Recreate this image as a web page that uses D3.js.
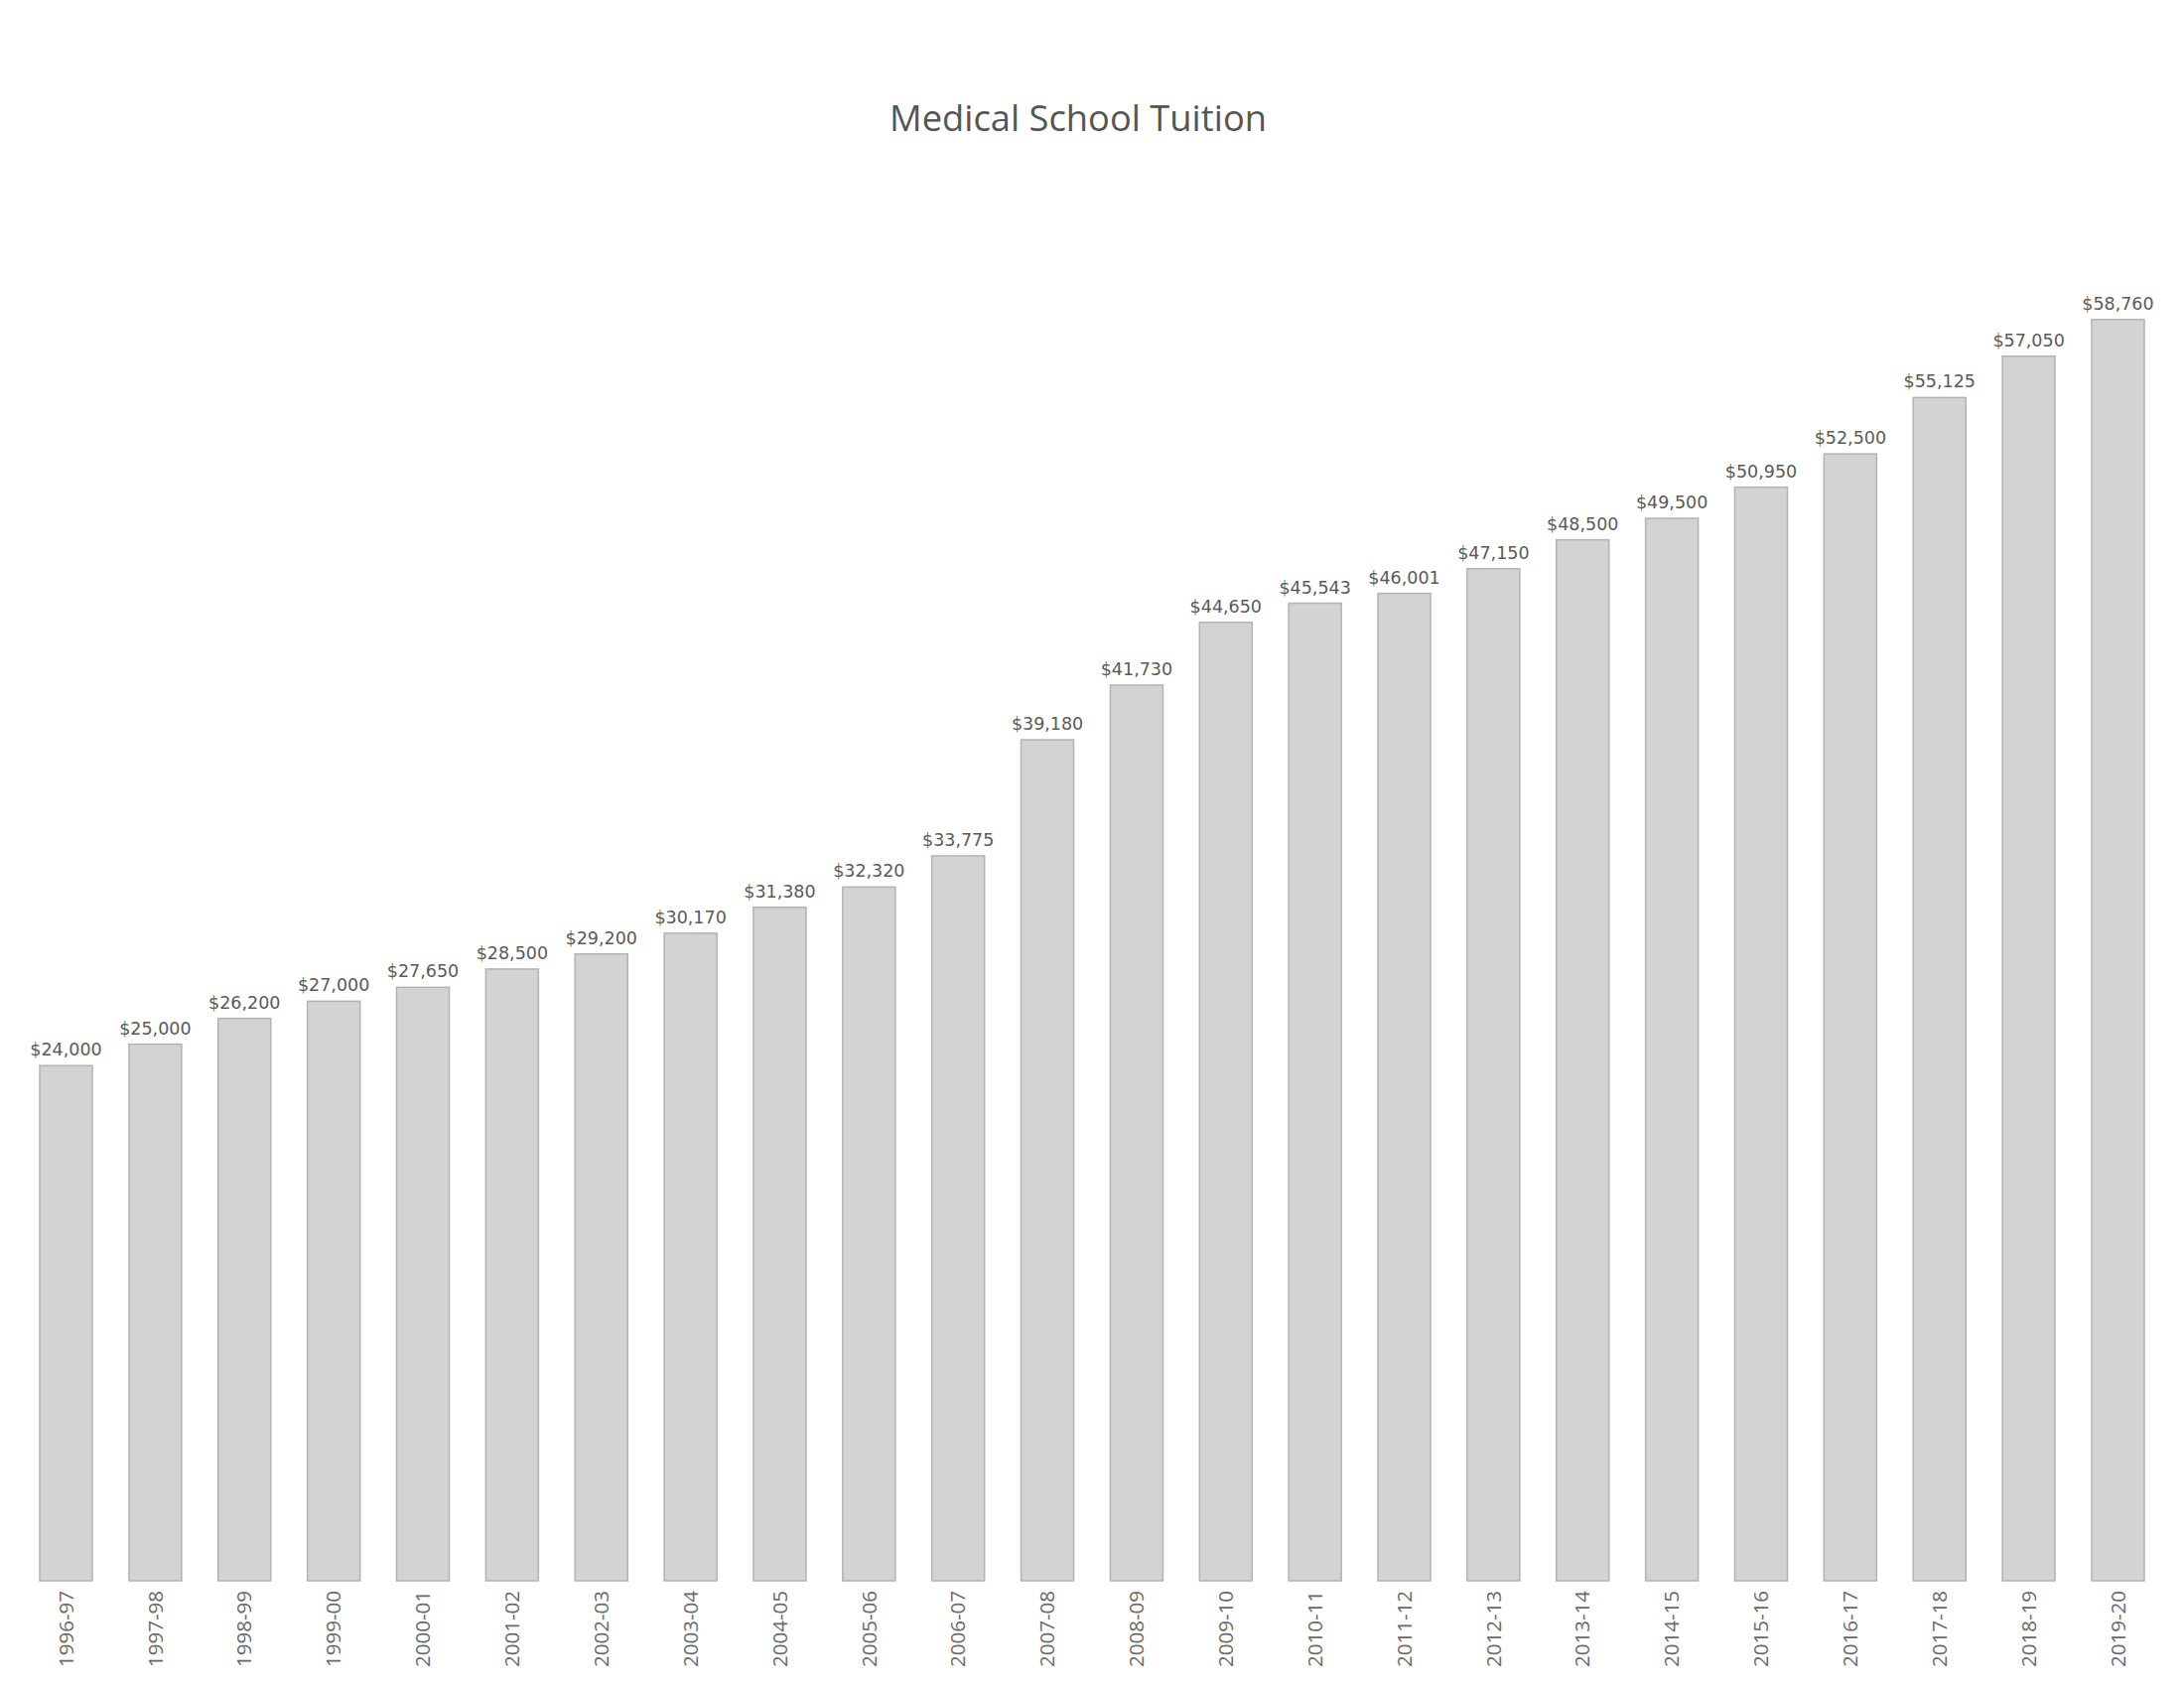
<!DOCTYPE html>
<html>
<head>
<meta charset="utf-8">
<script src="https://cdn.jsdelivr.net/npm/d3@7"></script>
<style>
  html, body { margin: 0; padding: 0; background: #ffffff; }
  svg { display: block; }
</style>
</head>
<body>
<script>
const years = ["1996-97","1997-98","1998-99","1999-00","2000-01","2001-02","2002-03","2003-04","2004-05","2005-06","2006-07","2007-08","2008-09","2009-10","2010-11","2011-12","2012-13","2013-14","2014-15","2015-16","2016-17","2017-18","2018-19","2019-20"];
const tuition = [24000,25000,26200,27000,27650,28500,29200,30170,31380,32320,33775,39180,41730,44650,45543,46001,47150,48500,49500,50950,52500,55125,57050,58760];
const chartTitle = "Medical School Tuition";

const W = 2200, H = 1700;
const svg = d3.select("body").append("svg").attr("width", W).attr("height", H);

const x = d3.scaleBand().domain(years).range([21.6, 2178.4]).paddingInner(0.41).paddingOuter(0.205);
const y = d3.scaleLinear().domain([0, 60000]).range([1592, 295]);

svg.append("text")
  .attr("x", 1086).attr("y", 132)
  .attr("text-anchor", "middle")
  .attr("font-family", "'Open Sans', sans-serif")
  .attr("font-size", 36.3)
  .attr("fill", "#555555")
  .text(chartTitle);

const data = years.map((d, i) => ({year: d, value: tuition[i]}));

svg.append("g").selectAll("rect").data(data).join("rect")
  .attr("x", d => x(d.year))
  .attr("y", d => y(d.value))
  .attr("width", x.bandwidth())
  .attr("height", d => y(0) - y(d.value))
  .attr("fill", "#d3d3d3")
  .attr("stroke", "#b3b3b3")
  .attr("stroke-width", 1.5);

const fmt = d3.format("$,");
svg.append("g").selectAll("text").data(data).join("text")
  .attr("x", d => x(d.year) + x.bandwidth() / 2)
  .attr("y", d => y(d.value) - 10)
  .attr("text-anchor", "middle")
  .attr("font-family", "'DejaVu Sans', sans-serif")
  .attr("font-size", 17.5)
  .attr("fill", "#5a5a5a")
  .text(d => fmt(d.value));

const xAxis = d3.axisBottom(x).tickSize(0).tickPadding(0);
const gx = svg.append("g").attr("transform", "translate(0,1592)").call(xAxis);
gx.select(".domain").remove();
gx.selectAll("text")
  .attr("font-family", "'Open Sans', sans-serif")
  .attr("font-size", 20.5)
  .attr("fill", "#6a6a6a")
  .attr("text-anchor", "end")
  .attr("transform", "translate(0,10) rotate(-90)")
  .attr("x", 0).attr("y", 0)
  .attr("dy", "0.35em");
</script>
</body>
</html>
